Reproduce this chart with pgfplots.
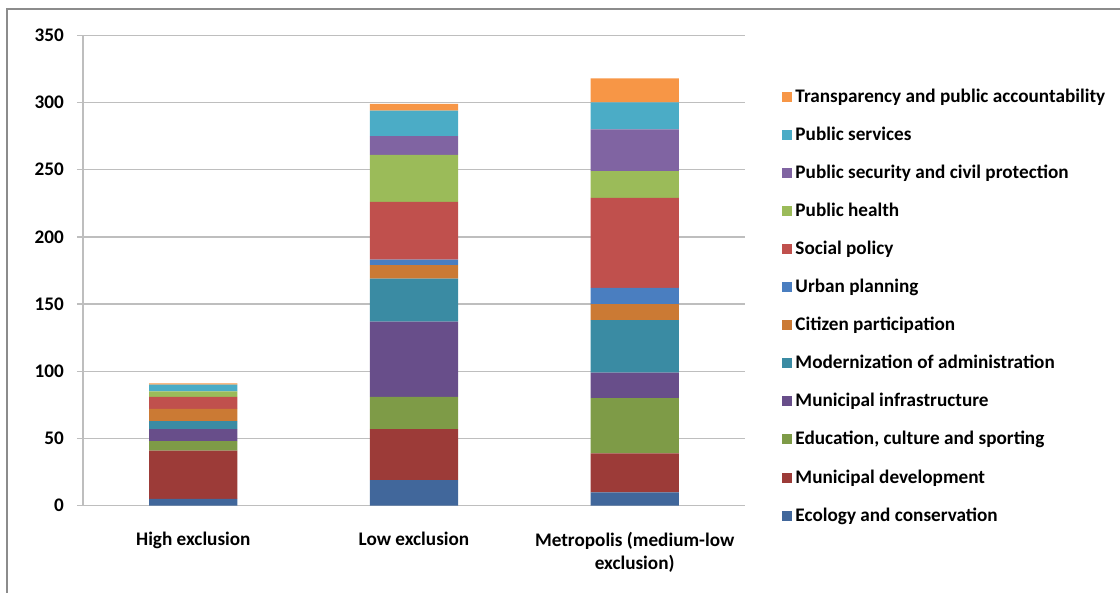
\documentclass[border=0pt]{standalone}
\usepackage{pgfplots}
\pgfplotsset{compat=1.18}
\usepackage{fontspec}
\setmainfont{Carlito}
\definecolor{cEco}{HTML}{41679B}
\definecolor{cMun}{HTML}{9C3B38}
\definecolor{cEdu}{HTML}{7E9B47}
\definecolor{cInf}{HTML}{684E8A}
\definecolor{cMod}{HTML}{3A8BA3}
\definecolor{cCit}{HTML}{CB7A34}
\definecolor{cUrb}{HTML}{4A7EC0}
\definecolor{cSoc}{HTML}{C0504D}
\definecolor{cHea}{HTML}{9BBB59}
\definecolor{cSec}{HTML}{8064A2}
\definecolor{cSer}{HTML}{4BACC6}
\definecolor{cTra}{HTML}{F79646}
\definecolor{gridc}{HTML}{BEBEBE}
\begin{document}
\begin{tikzpicture}
\useasboundingbox (0,0) rectangle (560pt,296.5pt);
\draw[gray!90, line width=1.2pt] (3.5pt,-20pt) -- (3.5pt,292pt) -- (600pt,292pt);
\begin{axis}[
  at={(41.5pt,43.65pt)}, anchor=south west,
  scale only axis, width=331pt, height=235.2pt,
  ybar stacked, bar width=0.4,
  xmin=-0.5, xmax=2.5, ymin=0, ymax=350,
  xtick={0,1,2},
  xticklabels={High exclusion, Low exclusion, {Metropolis (medium-low\\exclusion)}},
  xticklabel style={align=center, font=\bfseries\fontsize{9.6}{11.5}\selectfont, yshift=-6.5pt},
  extra x ticks={0.5,1.5}, extra x tick labels={},
  extra x tick style={major tick length=3pt, tick align=outside, tick style={gridc, line width=0.75pt}},
  ytick={0,50,...,350},
  yticklabel style={font=\bfseries\fontsize{9.6}{11}\selectfont, xshift=-3pt},
  /pgf/number format/assume math mode=true,
  major tick length=3pt,
  tick align=outside,
  x tick style={draw=none},
  y tick style={gridc, line width=0.75pt},
  ymajorgrids, grid style={gridc, line width=0.75pt},
  axis x line*=bottom, axis y line*=left,
  axis line style={gridc, line width=0.75pt},
  reverse legend,
  legend cell align=left,
  legend style={draw=none, fill=none, at={(1.056,0.895)}, anchor=north west,
    font=\bfseries\fontsize{9.6}{11}\selectfont, inner sep=0pt,
    row sep=7.55pt, nodes={inner sep=1.5pt, text height=7pt, text depth=1.5pt}},
  legend image code/.code={\fill[#1] (0pt,-2.5pt) rectangle (5pt,2.5pt);},
]
\addplot[fill=cEco, draw=none] coordinates {(0,5) (1,19) (2,10)};
\addplot[fill=cMun, draw=none] coordinates {(0,36) (1,38) (2,29)};
\addplot[fill=cEdu, draw=none] coordinates {(0,7) (1,24) (2,41)};
\addplot[fill=cInf, draw=none] coordinates {(0,9) (1,56) (2,19)};
\addplot[fill=cMod, draw=none] coordinates {(0,6) (1,32) (2,39)};
\addplot[fill=cCit, draw=none] coordinates {(0,9) (1,10) (2,12)};
\addplot[fill=cUrb, draw=none] coordinates {(0,0) (1,4) (2,12)};
\addplot[fill=cSoc, draw=none] coordinates {(0,9) (1,43) (2,67)};
\addplot[fill=cHea, draw=none] coordinates {(0,4) (1,35) (2,20)};
\addplot[fill=cSec, draw=none] coordinates {(0,0) (1,14) (2,31)};
\addplot[fill=cSer, draw=none] coordinates {(0,5) (1,19) (2,20)};
\addplot[fill=cTra, draw=none] coordinates {(0,1) (1,5) (2,18)};
\legend{Ecology and conservation, Municipal development, {Education, culture and sporting}, Municipal infrastructure, Modernization of administration, Citizen participation, Urban planning, Social policy, Public health, Public security and civil protection, Public services, Transparency and public accountability}
\end{axis}
\end{tikzpicture}
\end{document}
